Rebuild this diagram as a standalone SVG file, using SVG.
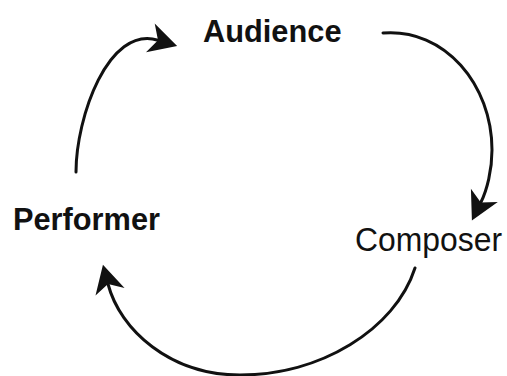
<svg xmlns="http://www.w3.org/2000/svg" width="507" height="376" viewBox="0 0 507 376">
  <style>
    .lbl { font-family: "Liberation Sans", Arial, sans-serif; fill: #111; }
    .b { font-weight: bold; }
    .conn { fill: none; stroke: #111; stroke-width: 3; stroke-linecap: round; }
  </style>
  <defs>
    <marker id="ah" markerUnits="userSpaceOnUse" viewBox="-10 -17 34 34" refX="0" refY="0" markerWidth="34" markerHeight="34" orient="auto">
      <path d="M20,0 L-8,-15 L0,0 L-8,15 Z" fill="#111"/>
    </marker>
  </defs>
  <rect width="507" height="376" fill="#fff"/>
  <g id="audience">
    <text class="lbl b" x="203" y="41.5" font-size="32" textLength="138.5" lengthAdjust="spacingAndGlyphs">Audience</text>
  </g>
  <g id="performer">
    <text class="lbl b" x="13" y="230" font-size="32" textLength="147" lengthAdjust="spacingAndGlyphs">Performer</text>
  </g>
  <g id="composer">
    <text class="lbl" x="355" y="251" font-size="33" textLength="147" lengthAdjust="spacingAndGlyphs">Composer</text>
  </g>
  <g id="connectors">
    <path class="conn" d="M76,172 C76,118 108,25 158,40.2" marker-end="url(#ah)"/>
    <path class="conn" d="M383,33 C445,28 492,85 492,150 C492,170 487,190 480.8,202.5" marker-end="url(#ah)"/>
    <path class="conn" d="M415,268 C395,330 320,375 240,375 C170,375 120,330 108,284" marker-end="url(#ah)"/>
  </g>
</svg>
